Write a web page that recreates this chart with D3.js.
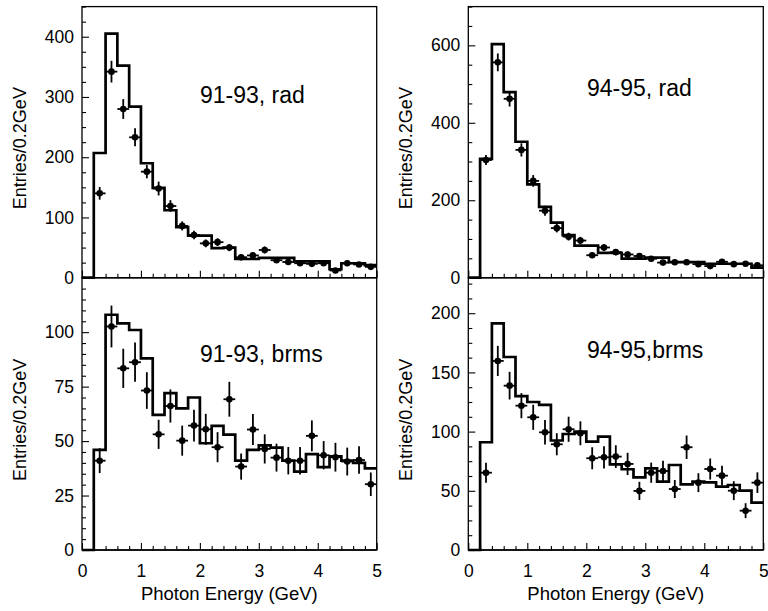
<!DOCTYPE html>
<html>
<head>
<meta charset="utf-8">
<script src="https://cdn.jsdelivr.net/npm/d3@7"></script>
<style>
  html, body { margin: 0; padding: 0; background: #fff; }
  svg { display: block; font-family: "Liberation Sans", Arial, Helvetica, sans-serif; }
</style>
</head>
<body>
<svg id="chart" width="768" height="611"></svg>
<script>
// ---- data ----
const histEdges = [0, 0.2, 0.4, 0.6, 0.8, 1.0, 1.2, 1.4, 1.6, 1.8, 2.0, 2.2, 2.4, 2.6, 2.8, 3.0, 3.2, 3.4, 3.6, 3.8, 4.0, 4.2, 4.4, 4.6, 4.8, 5.0];
const pointEnergy = [0.3, 0.5, 0.7, 0.9, 1.1, 1.3, 1.5, 1.7, 1.9, 2.1, 2.3, 2.5, 2.7, 2.9, 3.1, 3.3, 3.5, 3.7, 3.9, 4.1, 4.3, 4.5, 4.7, 4.9];
const xTickLabels = [0, 1, 2, 3, 4, 5];

// 91-93, rad
const hist9193rad = [0, 207, 405, 352, 284, 190, 149, 112, 84, 70, 70, 49, 50, 31, 31, 33, 33, 33, 27, 27, 27, 14, 24, 24, 21];
const data9193rad = [140, 342, 280, 233, 176, 148, 119, 86, 71, 57, 59, 50, 34, 37, 46, 29, 26, 24, 23, 24, 12, 24, 22, 18];
const err9193rad  = [10.5, 18, 16.5, 15, 11, 11.5, 9.7, 7.5, 7, 6.5, 6.5, 6, 5, 5.2, 5.8, 4.6, 4.4, 4.2, 4.1, 4.2, 3, 4.2, 4, 3.6];

// 94-95, rad
const hist9495rad = [0, 307, 603, 479, 351, 241, 183, 142, 110, 83, 83, 64, 64, 49, 49, 52, 52, 40, 40, 40, 36, 36, 36, 36, 26];
const data9495rad = [304, 556, 462, 330, 250, 173, 128, 106, 96, 58, 78, 66, 60, 56, 49, 39, 40, 40, 35, 30, 41, 35, 36, 32];
const err9495rad  = [13, 23, 20, 17, 15, 13, 11, 10, 9.5, 7.5, 8.8, 8, 7.7, 7.5, 7, 6.2, 6.3, 6.3, 5.9, 5.5, 6.4, 5.9, 6, 5.6];

// 91-93, brms
const hist9193brms = [0, 46, 108, 104, 101, 88, 62, 72, 65, 70, 49, 57, 53, 41, 46, 48, 47, 41, 36, 44, 38, 43, 41, 40, 37.5];
const data9193brms = [41, 102.6, 83.4, 86.2, 73.2, 53.1, 66.1, 50.2, 57.1, 55.4, 47.2, 69.2, 38.3, 55.3, 46.4, 42.4, 41, 41, 52.4, 43.5, 42.6, 40.6, 41.3, 30.2];
const err9193brms  = [5.7, 9.6, 9, 9, 8.4, 6.7, 7.6, 6.9, 7.3, 7.1, 6.9, 8, 6, 7.1, 6.7, 6.4, 6.3, 6.3, 7.1, 6.5, 6.6, 6.4, 6.3, 5.4];

// 94-95, brms
const hist9495brms = [0, 91, 191.5, 163, 130, 125, 122.5, 92.5, 98, 100, 91.5, 95.7, 72.4, 68.2, 61.4, 69, 57.7, 71.8, 55.5, 57.7, 57.2, 53.5, 54.9, 50.1, 40];
const data9495brms = [65.3, 159.7, 138.8, 121.9, 112.1, 99.4, 89.3, 102, 98.6, 77.5, 78.3, 78.9, 72.7, 49.9, 65.3, 66.7, 51.5, 86.8, 56.9, 68.4, 62.8, 50.1, 33.2, 56.9];
const err9495brms  = [8.5, 12.7, 11.7, 10.6, 10.6, 10.3, 9.3, 10.6, 10.1, 9.3, 9.4, 9.6, 9.4, 7.7, 8.5, 8.7, 7.6, 9.9, 8, 8.9, 8.4, 8, 6.3, 8.7];

// y tick labels per panel
const yTicks9193rad  = [0, 100, 200, 300, 400];
const yTicks9495rad  = [0, 200, 400, 600];
const yTicks9193brms = [0, 25, 50, 75, 100];
const yTicks9495brms = [0, 50, 100, 150, 200];

const panelLabels = ["91-93, rad", "94-95, rad", "91-93, brms", "94-95,brms"];
const yTitle = "Entries/0.2GeV";
const xTitle = "Photon Energy (GeV)";

// ---- layout ----
const svg = d3.select("#chart");
const cols = [[82, 376.7], [468.3, 763.3]];
const rows = [[277.7, 6.6], [550, 277.7]];

const panels = [
  { col: 0, row: 0, ymax: 450, minor: 25, ticks: yTicks9193rad, hist: hist9193rad, pts: data9193rad, err: err9193rad, label: panelLabels[0], lx: 200, ly: 103 },
  { col: 1, row: 0, ymax: 700, minor: 50, ticks: yTicks9495rad, hist: hist9495rad, pts: data9495rad, err: err9495rad, label: panelLabels[1], lx: 587, ly: 96 },
  { col: 0, row: 1, ymax: 125, minor: 5, ticks: yTicks9193brms, hist: hist9193brms, pts: data9193brms, err: err9193brms, label: panelLabels[2], lx: 200, ly: 362 },
  { col: 1, row: 1, ymax: 230, minor: 12.5, ticks: yTicks9495brms, hist: hist9495brms, pts: data9495brms, err: err9495brms, label: panelLabels[3], lx: 587, ly: 358 }
];

const tickFont = 17.5;

panels.forEach(p => {
  const [x0, x1] = cols[p.col];
  const [yb, yt] = rows[p.row];
  const x = d3.scaleLinear().domain([0, 5]).range([x0, x1]);
  const y = d3.scaleLinear().domain([0, p.ymax]).range([yb, yt]);
  const g = svg.append("g");

  // frame
  g.append("rect")
    .attr("x", x0).attr("y", yt)
    .attr("width", x1 - x0).attr("height", yb - yt)
    .attr("fill", "none").attr("stroke", "#000").attr("stroke-width", 1.3);

  // y axis: minor ticks
  const minorVals = d3.range(0, p.ymax + 1e-9, p.minor).filter(v => !p.ticks.includes(v));
  g.append("g").attr("transform", `translate(${x0},0)`)
    .call(d3.axisLeft(y).tickValues(minorVals).tickSize(-4).tickFormat(""))
    .call(s => s.select(".domain").remove())
    .selectAll("line").attr("stroke-width", 1.1);
  // y axis: major ticks + labels
  const ya = g.append("g").attr("transform", `translate(${x0},0)`)
    .call(d3.axisLeft(y).tickValues(p.ticks).tickSize(-7).tickPadding(8).tickFormat(d3.format("d")));
  ya.select(".domain").remove();
  ya.selectAll("line").attr("stroke-width", 1.1);
  ya.selectAll("text").attr("font-size", tickFont).attr("fill", "#000")
    .style("font-family", '"Liberation Sans", Arial, sans-serif');

  // x axis minor + major ticks
  const xMinor = histEdges.filter(v => !xTickLabels.includes(v));
  g.append("g").attr("transform", `translate(0,${yb})`)
    .call(d3.axisBottom(x).tickValues(xMinor).tickSize(-4).tickFormat(""))
    .call(s => s.select(".domain").remove())
    .selectAll("line").attr("stroke-width", 1.1);
  const xa = g.append("g").attr("transform", `translate(0,${yb})`)
    .call(d3.axisBottom(x).tickValues(xTickLabels).tickSize(-7).tickPadding(15)
      .tickFormat(p.row === 1 ? d3.format("d") : () => ""));
  xa.select(".domain").remove();
  xa.selectAll("line").attr("stroke-width", 1.1);
  xa.selectAll("text").attr("font-size", tickFont).attr("fill", "#000")
    .style("font-family", '"Liberation Sans", Arial, sans-serif');

  // zero baseline (axis line)
  g.append("line").attr("x1", x0).attr("x2", x1).attr("y1", y(0)).attr("y2", y(0))
    .attr("stroke", "#000").attr("stroke-width", 1.3);

  // histogram (MC)
  const stepData = histEdges.map((e, i) => [e, p.hist[Math.min(i, p.hist.length - 1)]]);
  g.append("path")
    .datum(stepData)
    .attr("d", d3.line().x(d => x(d[0])).y(d => y(d[1])).curve(d3.curveStepAfter))
    .attr("fill", "none").attr("stroke", "#000").attr("stroke-width", 2.7)
    .attr("stroke-linejoin", "miter");

  // data points with error bars
  const pg = g.append("g");
  pointEnergy.forEach((e, i) => {
    const v = p.pts[i], er = p.err[i];
    pg.append("line").attr("x1", x(e)).attr("x2", x(e))
      .attr("y1", y(v - er)).attr("y2", y(v + er))
      .attr("stroke", "#000").attr("stroke-width", 1.8);
    pg.append("line").attr("x1", x(e - 0.1)).attr("x2", x(e + 0.1))
      .attr("y1", y(v)).attr("y2", y(v))
      .attr("stroke", "#000").attr("stroke-width", 1.8);
    pg.append("circle").attr("cx", x(e)).attr("cy", y(v)).attr("r", 3.3).attr("fill", "#000");
  });

  // panel label
  g.append("text").attr("x", p.lx).attr("y", p.ly)
    .attr("font-size", 23).text(p.label);

  // y title
  const ytx = p.col === 0 ? 20 : 406;
  const yty = (yb + yt) / 2 + 6;
  g.append("text")
    .attr("transform", `translate(${ytx},${yty}) rotate(-90)`)
    .attr("text-anchor", "middle").attr("dominant-baseline", "central")
    .attr("font-size", 18).text(yTitle);

  // x title
  if (p.row === 1) {
    g.append("text").attr("x", (x0 + x1) / 2).attr("y", 600)
      .attr("text-anchor", "middle").attr("font-size", 18.5).text(xTitle);
  }
});
</script>
</body>
</html>
